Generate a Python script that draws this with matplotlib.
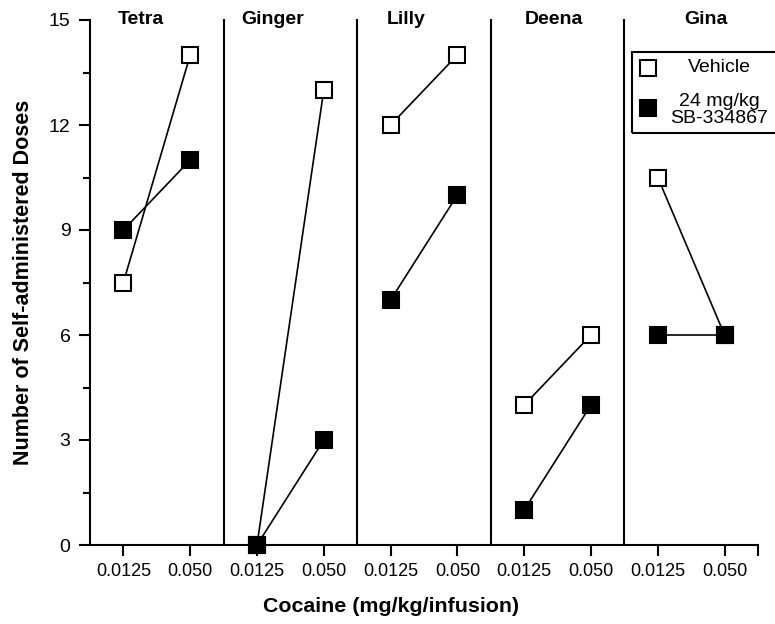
import matplotlib
matplotlib.use("Agg")
import matplotlib.pyplot as plt
from matplotlib.lines import Line2D
from matplotlib.patches import Rectangle

plt.rcParams['font.family'] = ['Liberation Sans', 'DejaVu Sans']

# ---- data ----
subjects = ["Tetra", "Ginger", "Lilly", "Deena", "Gina"]
doses = ["0.0125", "0.050"]
vehicle = [[7.5, 14], [0, 13], [12, 14], [4, 6], [10.5, 6]]
drug = [[9, 11], [0, 3], [7, 10], [1, 4], [6, 6]]
legend_labels = ["Vehicle", "24 mg/kg\nSB-334867"]
ylabel = "Number of Self-administered Doses"
xlabel = "Cocaine (mg/kg/infusion)"
yticks_major = [0, 3, 6, 9, 12, 15]
yticks_minor = [1.5, 4.5, 7.5, 10.5, 13.5]

# ---- layout ----
W, H = 775, 624
fig = plt.figure(figsize=(W / 100, H / 100), dpi=100)
axes = fig.subplots(1, 5, sharey=True,
                    gridspec_kw=dict(wspace=0, left=90 / W, right=758 / W,
                                     bottom=1 - 545 / H, top=1 - 20 / H))
title_x = [0.38, 0.37, 0.37, 0.47, 0.61]

xpos = [0, 1]
for i, ax in enumerate(axes):
    ax.patch.set_visible(False)
    ax.plot(xpos, vehicle[i], color='black', lw=1.2, marker='s', ms=12,
            mfc='white', mec='black', mew=1.5, clip_on=False, zorder=3)
    ax.plot(xpos, drug[i], color='black', lw=1.2, marker='s', ms=12,
            mfc='black', mec='black', mew=1.5, clip_on=False, zorder=4)
    ax.set_xlim(-0.5, 1.5)
    ax.set_ylim(0, 15)
    ax.spines['top'].set_visible(False)
    for s in ['left', 'right', 'bottom']:
        ax.spines[s].set_linewidth(1.5)
    ax.spines['left'].set_visible(i == 0)
    ax.spines['right'].set_visible(i != 4)
    if i == 4:
        ax.set_xticks(xpos + [1.5])
        ax.set_xticklabels(doses + [""])
    else:
        ax.set_xticks(xpos)
        ax.set_xticklabels(doses)
    ax.tick_params(axis='x', direction='out', length=8, width=1.5,
                   labelsize=13, pad=5)
    ax.tick_params(axis='y', which='both', right=False)
    if i == 0:
        ax.set_yticks(yticks_major)
        ax.set_yticks(yticks_minor, minor=True)
        ax.tick_params(axis='y', which='major', direction='out', length=8,
                       width=1.5, labelsize=14, pad=6)
        ax.tick_params(axis='y', which='minor', direction='out', length=5,
                       width=1.5)
    else:
        ax.tick_params(axis='y', which='both', left=False, labelleft=False)
    ax.text(title_x[i], 15, subjects[i], transform=ax.get_yaxis_transform(),
            ha='center', va='center', fontsize=14, fontweight='bold')

fig.text(24 / W, 1 - 282 / H, ylabel, rotation=90, ha='center', va='center',
         fontsize=15.5, fontweight='bold')
fig.text(391 / W, 1 - 607 / H, xlabel, ha='center', va='center',
         fontsize=15.4, fontweight='bold')

# ---- legend (manual box) ----
fig.add_artist(Rectangle((632 / W, 1 - 133 / H), (790 - 632) / W, (133 - 52) / H,
                         transform=fig.transFigure, fill=False,
                         edgecolor='black', lw=1.5, clip_on=False))
fig.add_artist(Line2D([648 / W], [1 - 68 / H], transform=fig.transFigure,
                      marker='s', ms=12, mfc='white', mec='black', mew=1.5,
                      ls='none'))
fig.add_artist(Line2D([648 / W], [1 - 108 / H], transform=fig.transFigure,
                      marker='s', ms=12, mfc='black', mec='black', mew=1.5,
                      ls='none'))
fig.text(719 / W, 1 - 68 / H, legend_labels[0], ha='center', va='center',
         fontsize=14)
fig.text(719 / W, 1 - 110 / H, legend_labels[1], ha='center', va='center',
         fontsize=14, linespacing=0.95, multialignment='center')

fig.savefig("out.png", dpi=100)
